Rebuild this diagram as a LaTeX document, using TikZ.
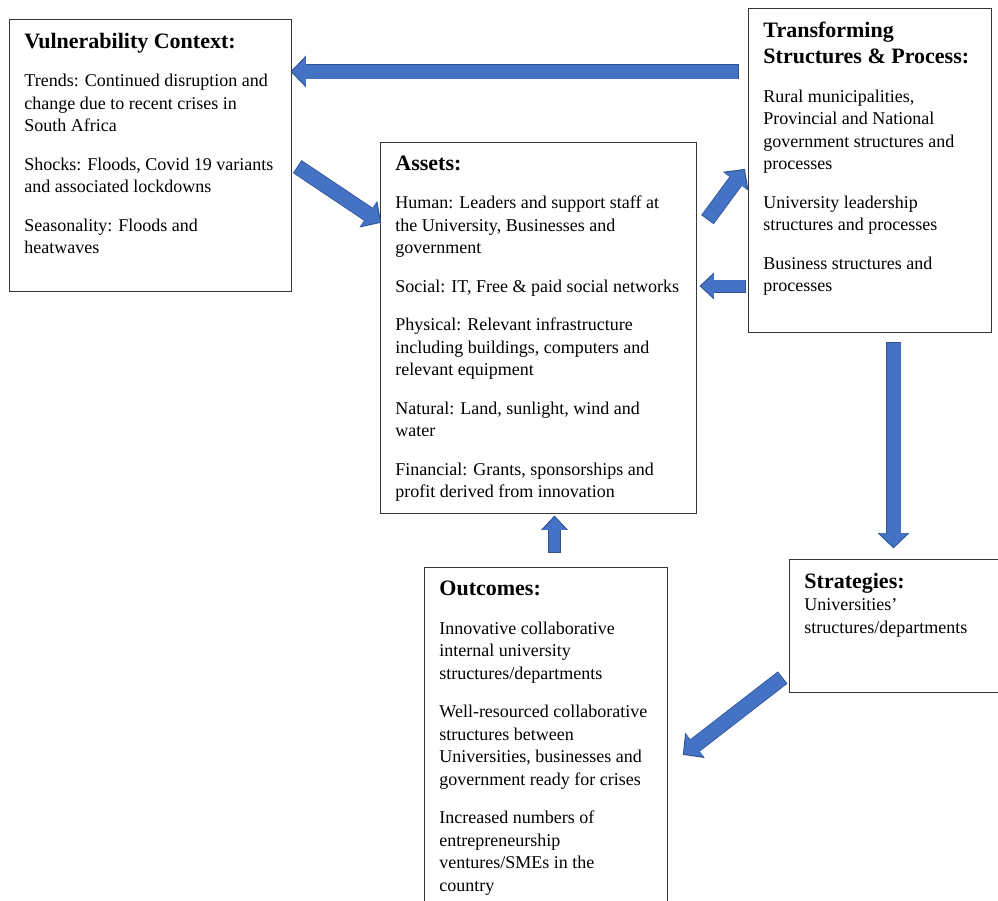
\documentclass[tikz,border=0pt]{standalone}
\usepackage{fontspec}
\setmainfont{Liberation Serif}
\usetikzlibrary{arrows.meta, positioning, calc}
\definecolor{officeblue}{HTML}{4472C4}
\definecolor{officeblueedge}{HTML}{2F528F}
\definecolor{boxline}{HTML}{363636}
\newcommand{\headfont}{\fontsize{22}{26.5}\selectfont\bfseries}
\newcommand{\boxhead}[1]{{\headfont #1\par}}
\newcommand{\boxtext}[3]{\hspace*{15pt}\parbox[t][#2][t]{#1}{\raggedright\setlength{\parskip}{16pt}#3}}
\tikzset{
  frame/.style={draw=boxline, line width=0.9pt, anchor=north west, inner xsep=0pt, inner ysep=13.5pt, font=\fontsize{18}{22.5}\selectfont},
  flow/.style={officeblue, line width=14pt, -{Triangle[width=28pt,length=14pt]},
    preaction={draw=officeblueedge, line width=15.5pt, shorten >=-1.4pt, shorten <=-0.8pt, -{Triangle[width=31pt,length=15.4pt]}}},
  smallflow/.style={officeblue, line width=11.5pt, -{Triangle[width=23pt,length=13pt]},
    preaction={draw=officeblueedge, line width=13pt, shorten >=-1.4pt, shorten <=-0.8pt, -{Triangle[width=26pt,length=14.4pt]}}}
}
\begin{document}
\begin{tikzpicture}[x=1pt,y=1pt]
  \useasboundingbox (0,0) rectangle (998,-900);

  % boxes
  \node[frame] (vuln) at (9,-19) {\boxtext{267pt}{245pt}{%
    \boxhead{Vulnerability Context:}
    Trends: Continued disruption and\\ change due to recent crises in\\ South Africa\par
    Shocks: Floods, Covid 19 variants\\ and associated lockdowns\par
    Seasonality: Floods and\\ heatwaves}};

  \node[frame] (trans) at (748,-8) {\boxtext{228pt}{297pt}{%
    \boxhead{Transforming\\ Structures \& Process:}
    Rural municipalities,\\ Provincial and National\\ government structures and\\ processes\par
    University leadership\\ structures and processes\par
    Business structures and\\ processes}};

  \node[frame] (assets) at (380,-142) {\boxtext{301pt}{344pt}{%
    \boxhead{Assets:}
    Human: Leaders and support staff at\\ the University, Businesses and\\ government\par
    Social: IT, Free \& paid social networks\par
    Physical: Relevant infrastructure\\ including buildings, computers and\\ relevant equipment\par
    Natural: Land, sunlight, wind and\\ water\par
    Financial: Grants, sponsorships and\\ profit derived from innovation}};

  \node[frame] (outc) at (424,-567) {\boxtext{228pt}{333pt}{%
    \boxhead{Outcomes:}
    Innovative collaborative\\ internal university\\ structures/departments\par
    Well-resourced collaborative\\ structures between\\ Universities, businesses and\\ government ready for crises\par
    Increased numbers of\\ entrepreneurship\\ ventures/SMEs in the\\ country}};

  \node[frame] (strat) at (789,-559) {\boxtext{215pt}{106pt}{%
    {\headfont Strategies:}\\ Universities'\\ structures/departments}};

  % arrows
  \draw[flow] ([shift={(-10,-63.5)}]trans.north west) -- ([shift={(0,-52.5)}]vuln.north east);
  \draw[flow] ([shift={(6,-148)}]vuln.north east) -- ([shift={(0,-80)}]assets.north west);
  \draw[flow] ([shift={(11,-77)}]assets.north east) -- ([shift={(-4,-162)}]trans.north west);
  \draw[smallflow] ([shift={(-3,-278)}]trans.north west) -- ([shift={(4,-144)}]assets.north east);
  \draw[flow] ([shift={(145.5,-10)}]trans.south west) -- ([shift={(104.5,12)}]strat.north west);
  \draw[flow] ([shift={(-7,-119)}]strat.north west) -- ([shift={(16,-187)}]outc.north east);
  \draw[smallflow] ([shift={(130.5,15)}]outc.north west) -- ([shift={(174.5,-3)}]assets.south west);
\end{tikzpicture}
\end{document}
